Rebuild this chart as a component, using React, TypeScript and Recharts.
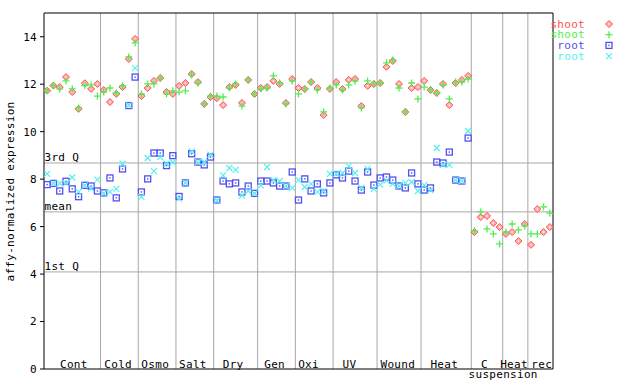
import React from 'react';
import { ScatterChart, Scatter, XAxis, YAxis, ReferenceLine, Legend } from 'recharts';

const FONT = '"DejaVu Sans Mono", monospace';
const RED = '#ff5050';
const GREEN = '#50ee50';
const BLUE = '#5050f0';
const CYAN = '#55f0f0';
const GRID = '#a8a8a8';

const groupNames = ['Cont', 'Cold', 'Osmo', 'Salt', 'Dry', 'Gen', 'Oxi', 'UV', 'Wound', 'Heat', 'C', 'Heat', 'rec'];
const groupLabelPos = [4.25, 11.3, 17.2, 23.2, 29.6, 36.2, 41.6, 48.1, 55.8, 63.2, 69.6, 74.3, 78.7];
const groupBoundaries = [8.5, 14.5, 20.5, 26.5, 33.5, 39.5, 45.5, 52.5, 59.5, 67.5, 72.5, 76.5];
const suspensionLabel = 'suspension';
const suspensionPos = 72.57;
const quartileNames = ['3rd Q', 'mean', '1st Q'];
const quartileValues = [8.68, 6.62, 4.09];
const yTicks = [0, 2, 4, 6, 8, 10, 12, 14];
const xDomain = [-0.5, 80.5];
const yDomain = [0, 15];

const shootRedValues = [
  11.73, 11.94, 11.88, 12.30, 11.67, 10.96, 12.04, 11.80, 12.01,
  11.76, 11.25, 11.59, 11.88, 13.06, 13.91,
  11.50, 11.84, 12.14, 12.26, 11.67, 11.59,
  11.93, 12.05, 12.43, 12.09, 11.17, 11.46,
  11.41, 11.12, 11.88, 11.97, 11.21, 12.18, 11.59,
  11.84, 11.88, 12.14, 12.01, 11.21, 12.22,
  11.84, 11.80, 12.09, 11.84, 10.70, 11.80,
  12.09, 11.80, 12.18, 12.22, 11.08, 11.93, 12.01,
  12.05, 12.73, 12.98, 12.01, 10.83, 11.84, 11.88,
  12.14, 11.76, 11.63, 12.01, 11.12, 12.05, 12.18, 12.35,
  5.77, 6.40, 6.45, 6.15, 5.98,
  5.69, 5.77, 5.39, 6.11,
  5.23, 6.74, 5.77, 5.98,
];

const shootGreenValues = [
  11.73, 11.94, 11.80, 12.14, 11.80, 11.00, 11.94, 11.97, 11.50,
  11.67, 11.84, 11.63, 11.93, 13.15, 13.74,
  11.59, 12.01, 12.01, 12.26, 11.59, 11.72,
  11.67, 11.72, 12.39, 12.05, 11.17, 11.50,
  11.50, 11.46, 11.84, 12.01, 11.08, 12.18, 11.59,
  11.80, 11.84, 12.35, 12.05, 11.17, 12.14,
  11.59, 11.80, 12.09, 11.76, 10.83, 11.84,
  11.97, 11.76, 11.97, 12.14, 11.00, 12.14, 12.01,
  12.05, 12.90, 13.02, 11.84, 10.83, 12.05, 11.38,
  11.88, 11.76, 11.63, 11.97, 11.38, 12.09, 12.09, 12.22,
  5.82, 6.62, 5.90, 5.69, 5.27,
  5.77, 6.11, 5.86, 6.03,
  5.69, 5.69, 6.83, 6.57,
];

const rootBlueValues = [
  7.77, 7.82, 7.50, 7.91, 7.59, 7.26, 7.74, 7.71, 7.50,
  7.42, 8.05, 7.21, 8.43, 11.10, 12.30,
  7.46, 8.01, 9.10, 9.10, 8.57, 8.99,
  7.27, 7.84, 9.07, 8.72, 8.60, 8.93,
  7.12, 7.92, 7.80, 7.84, 7.46, 7.71, 7.40,
  7.92, 7.92, 7.84, 7.71, 7.71, 8.30,
  7.12, 8.01, 7.50, 7.80, 7.42, 7.84,
  8.18, 8.05, 8.34, 7.92, 7.54, 8.30, 7.75,
  8.05, 8.09, 7.96, 7.71, 7.63, 8.26, 7.80,
  7.54, 7.63, 8.72, 8.68, 9.14, 7.96, 7.92, 9.73,
];

const rootCyanValues = [
  8.22, 7.82, 7.82, 7.82, 8.07, 7.46, 7.74, 7.60, 7.98,
  7.40, 7.46, 7.59, 8.65, 11.12, 12.68,
  7.25, 8.89, 8.34, 8.93, 8.65, 8.71,
  7.18, 7.84, 9.17, 8.72, 8.72, 9.03,
  7.10, 8.16, 8.47, 8.39, 7.31, 7.50, 7.40,
  7.74, 8.51, 7.96, 7.92, 7.71, 7.63,
  7.96, 7.67, 7.80, 7.46, 7.50, 8.22,
  8.22, 8.26, 8.55, 8.26, 7.63, 8.43, 7.59,
  7.77, 7.94, 7.80, 7.71, 7.84, 7.88, 7.50,
  7.75, 7.54, 9.31, 8.60, 8.60, 7.96, 7.92, 10.03,
];

const toPoints = (vals: number[]) => vals.map((v, i) => ({ x: i, y: v }));

const DiamondShape = (p: any) => {
  const { cx, cy } = p;
  if (cx == null || cy == null) return null;
  const r = 3.5;
  return (
    <g>
      <path d={`M${cx},${cy - r}L${cx + r},${cy}L${cx},${cy + r}L${cx - r},${cy}Z`} fill="#ffb0b0" stroke={RED} strokeWidth={1} />
      <rect x={cx - 0.6} y={cy - 0.6} width={1.2} height={1.2} fill="#fff" />
    </g>
  );
};
const PlusShape = (p: any) => {
  const { cx, cy } = p;
  if (cx == null || cy == null) return null;
  const r = 3.5;
  return <path d={`M${cx - r},${cy}H${cx + r}M${cx},${cy - r}V${cy + r}`} stroke={GREEN} strokeWidth={1.3} fill="none" />;
};
const SquareShape = (p: any) => {
  const { cx, cy } = p;
  if (cx == null || cy == null) return null;
  return (
    <g>
      <rect x={cx - 3} y={cy - 3} width={6} height={6} fill="none" stroke={BLUE} strokeWidth={1.3} />
      <rect x={cx - 0.7} y={cy - 0.7} width={1.4} height={1.4} fill={BLUE} />
    </g>
  );
};
const CrossShape = (p: any) => {
  const { cx, cy } = p;
  if (cx == null || cy == null) return null;
  const r = 3;
  return <path d={`M${cx - r},${cy - r}L${cx + r},${cy + r}M${cx - r},${cy + r}L${cx + r},${cy - r}`} stroke={CYAN} strokeWidth={1.2} fill="none" />;
};

const seriesDefs = [
  { name: 'shoot', color: RED, shape: DiamondShape, values: shootRedValues },
  { name: 'shoot', color: GREEN, shape: PlusShape, values: shootGreenValues },
  { name: 'root', color: BLUE, shape: SquareShape, values: rootBlueValues },
  { name: 'root', color: CYAN, shape: CrossShape, values: rootCyanValues },
];

const CatTick = (props: any) => {
  const { x, y, payload } = props;
  const idx = groupLabelPos.indexOf(payload.value);
  return (
    <text x={x} y={y - 1.5} textAnchor="middle" fontFamily={FONT} fontSize={11} letterSpacing={0.3} fill="#000">
      {groupNames[idx]}
    </text>
  );
};

const SuspLabel = (props: any) => {
  const vb = props.viewBox || {};
  const x = vb.x + ((suspensionPos - xDomain[0]) / (xDomain[1] - xDomain[0])) * vb.width;
  return (
    <text x={x} y={378} textAnchor="middle" fontFamily={FONT} fontSize={11} letterSpacing={0.3} fill="#000">
      {suspensionLabel}
    </text>
  );
};

const YTitle = (props: any) => {
  const vb = props.viewBox || {};
  const cy = vb.y + vb.height / 2 + 0.5;
  return (
    <text x={13.5} y={cy} transform={`rotate(-90, 13.5, ${cy})`} textAnchor="middle" fontFamily={FONT} fontSize={11} letterSpacing={0.3} fill="#000">
      affy-normalized expression
    </text>
  );
};

const QLabel = (props: any) => {
  const vb = props.viewBox || {};
  return (
    <text x={vb.x + 0.5} y={vb.y - 1.5} fontFamily={FONT} fontSize={11} letterSpacing={0.3} fill="#000">
      {props.text}
    </text>
  );
};

const LegendContent = () => (
  <svg width={92} height={50} style={{ display: 'block' }}>
    {seriesDefs.map((s, i) => {
      const cy = 7 + i * 10.7;
      const Shape = s.shape;
      return (
        <g key={i}>
          <text x={37} y={cy} dominantBaseline="central" textAnchor="end" fontFamily={FONT} fontSize={11} letterSpacing={0.3} fill={s.color}>
            {s.name}
          </text>
          <Shape cx={61} cy={cy} />
        </g>
      );
    })}
  </svg>
);

export default function App() {
  return (
    <div style={{ position: 'absolute', left: 0, top: 0, width: 640, height: 384, background: '#fff' }}>
      <ScatterChart width={640} height={384} margin={{ top: 12, right: 87, bottom: 14, left: 0 }}>
        <XAxis
          xAxisId="b"
          dataKey="x"
          type="number"
          domain={xDomain}
          ticks={groupLabelPos}
          interval={0}
          tickSize={0}
          tickMargin={0}
          tickLine={false}
          tick={<CatTick />}
          height={1}
          axisLine={{ stroke: '#000' }}
          label={<SuspLabel />}
          allowDataOverflow
        />
        <XAxis xAxisId="t" orientation="top" type="number" domain={xDomain} height={1} tick={false} tickLine={false} axisLine={{ stroke: '#000' }} />
        <YAxis
          yAxisId="l"
          dataKey="y"
          type="number"
          domain={yDomain}
          ticks={yTicks}
          interval={0}
          width={44}
          tickSize={4}
          tickMargin={3}
          tick={{ fontFamily: FONT, fontSize: 11, fill: '#000', letterSpacing: 0.3 }}
          tickLine={{ stroke: '#000' }}
          axisLine={{ stroke: '#000' }}
          label={<YTitle />}
          allowDataOverflow
        />
        <YAxis
          yAxisId="r"
          orientation="right"
          type="number"
          domain={yDomain}
          ticks={yTicks}
          interval={0}
          width={1}
          mirror
          tickSize={5}
          tick={false}
          tickLine={{ stroke: '#000' }}
          axisLine={{ stroke: '#000' }}
        />
        {groupBoundaries.map((b) => (
          <ReferenceLine key={`b${b}`} xAxisId="b" yAxisId="l" x={b} stroke={GRID} strokeWidth={1} />
        ))}
        {quartileValues.map((q, i) => (
          <ReferenceLine key={`q${i}`} xAxisId="b" yAxisId="l" y={q} stroke={GRID} strokeWidth={1} label={<QLabel text={quartileNames[i]} />} />
        ))}
        {seriesDefs.map((s, i) => (
          <Scatter
            key={i}
            name={s.name}
            xAxisId="b"
            yAxisId="l"
            data={toPoints(s.values)}
            fill={s.color}
            shape={s.shape}
            isAnimationActive={false}
          />
        ))}
        <Legend
          layout="vertical"
          align="center"
          verticalAlign="middle"
          content={<LegendContent />}
          wrapperStyle={{ left: 548, top: 17, width: 92, height: 50 }}
        />
      </ScatterChart>
    </div>
  );
}
